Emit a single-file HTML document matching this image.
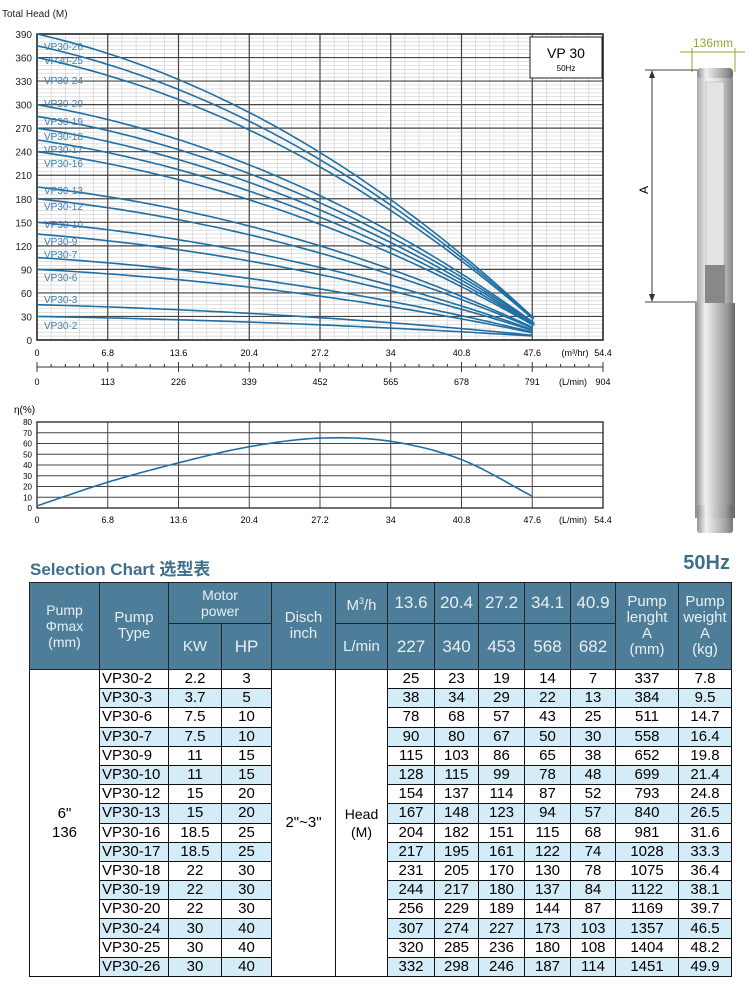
<!DOCTYPE html>
<html><head><meta charset="utf-8">
<style>
body{margin:0;width:750px;height:987px;background:#fff;font-family:"Liberation Sans","Noto Sans CJK SC",sans-serif;position:relative;overflow:hidden}
svg text{font-family:"Liberation Sans",sans-serif}
.title{position:absolute;left:30px;top:555px;font-size:17px;font-weight:bold;color:#3f6f8d}
.hz{position:absolute;right:20px;top:552px;font-size:20px;font-weight:bold;color:#3f6f8d}
table{position:absolute;left:29px;top:582px;border-collapse:collapse;table-layout:fixed;width:702px}
td{border:1px solid #111;text-align:center;padding:0;font-size:14px;height:18.2px;line-height:16px}
thead td{background:#4d7d99;color:#e8f0f4;font-size:14px;border-color:#222;line-height:16px}
thead td.big{font-size:17px}
tr.b td.c{background:#d4ecf7}
</style></head><body>
<svg id="ch" width="750" height="540" style="position:absolute;left:0;top:0"></svg>
<div class="title">Selection Chart 选型表</div>
<div class="hz">50Hz</div>
<table>
<colgroup><col style="width:70px"><col style="width:69px"><col style="width:53px"><col style="width:50px"><col style="width:64px"><col style="width:52px"><col style="width:47px"><col style="width:44px"><col style="width:46px"><col style="width:46px"><col style="width:45px"><col style="width:63px"><col style="width:53px"></colgroup>
<thead>
<tr style="height:41px"><td rowspan="2">Pump<br>Φmax<br>(mm)</td><td rowspan="2" style="font-size:15px">Pump<br>Type</td><td colspan="2">Motor<br>power</td><td rowspan="2" style="font-size:15px">Disch<br>inch</td><td style="font-size:15px">M<sup style="font-size:9px">3</sup>/h</td><td class="big">13.6</td><td class="big">20.4</td><td class="big">27.2</td><td class="big">34.1</td><td class="big">40.9</td><td rowspan="2" style="font-size:15px">Pump<br>lenght<br>A<br>(mm)</td><td rowspan="2" style="font-size:15px">Pump<br>weight<br>A<br>(kg)</td></tr>
<tr style="height:46px"><td style="font-size:15px">KW</td><td class="big">HP</td><td style="font-size:15px">L/min</td><td class="big">227</td><td class="big">340</td><td class="big">453</td><td class="big">568</td><td class="big">682</td></tr>
</thead>
<tbody id="tb"></tbody>
</table>
<script>
const rows=[["VP30-2","2.2","3",25,23,19,14,7,337,"7.8"],["VP30-3","3.7","5",38,34,29,22,13,384,"9.5"],["VP30-6","7.5","10",78,68,57,43,25,511,"14.7"],["VP30-7","7.5","10",90,80,67,50,30,558,"16.4"],["VP30-9","11","15",115,103,86,65,38,652,"19.8"],["VP30-10","11","15",128,115,99,78,48,699,"21.4"],["VP30-12","15","20",154,137,114,87,52,793,"24.8"],["VP30-13","15","20",167,148,123,94,57,840,"26.5"],["VP30-16","18.5","25",204,182,151,115,68,981,"31.6"],["VP30-17","18.5","25",217,195,161,122,74,1028,"33.3"],["VP30-18","22","30",231,205,170,130,78,1075,"36.4"],["VP30-19","22","30",244,217,180,137,84,1122,"38.1"],["VP30-20","22","30",256,229,189,144,87,1169,"39.7"],["VP30-24","30","40",307,274,227,173,103,1357,"46.5"],["VP30-25","30","40",320,285,236,180,108,1404,"48.2"],["VP30-26","30","40",332,298,246,187,114,1451,"49.9"]];
let h="";
rows.forEach((r,i)=>{h+='<tr class="'+(i%2?'b':'')+'">';
if(i==0)h+='<td rowspan="16" style="font-size:15px;line-height:19px">6"<br>136</td>';
h+='<td class="c" style="text-align:left;padding-left:2px;font-size:15px">'+r[0]+'</td><td class="c" style="font-size:15px">'+r[1]+'</td><td class="c" style="font-size:15px">'+r[2]+'</td>';
if(i==0)h+='<td rowspan="16" style="font-size:15px">2"~3"</td><td rowspan="16" style="font-size:14px;line-height:18px">Head<br>(M)</td>';
for(let k=3;k<10;k++)h+='<td class="c" style="font-size:15px">'+r[k]+'</td>';
h+='</tr>';});
document.getElementById('tb').innerHTML=h;

const X=q=>37+q*566/54.4, Y=v=>340-v*306/390, Ye=v=>508-v*86/80;
let s="";
for(let i=0;i<=40;i++){let x=37+i*566/40;s+=`<line x1="${x}" y1="34" x2="${x}" y2="340" stroke="#ccc" stroke-width="0.6"/>`;}
for(let v=0;v<=390;v+=5){s+=`<line x1="37" y1="${Y(v)}" x2="603" y2="${Y(v)}" stroke="#ccc" stroke-width="0.6"/>`;}
for(let i=0;i<=8;i++){let x=X(i*6.8);s+=`<line x1="${x}" y1="34" x2="${x}" y2="340" stroke="#444" stroke-width="1.2"/>`;}
for(let v=0;v<=390;v+=30){s+=`<line x1="37" y1="${Y(v)}" x2="603" y2="${Y(v)}" stroke="#444" stroke-width="1.2"/><text x="32" y="${Y(v)+4}" font-size="10" text-anchor="end" fill="#222">${v}</text>`;}
s+=`<rect x="37" y="34" width="566" height="306" fill="none" stroke="#222" stroke-width="1.5"/>`;
s+=`<text x="2" y="17" font-size="10" fill="#222">Total Head (M)</text>`;
s+=`<rect x="530" y="37" width="72" height="41" fill="#fff" stroke="#222"/><text x="566" y="58" font-size="14" text-anchor="middle">VP 30</text><text x="566" y="71" font-size="8" text-anchor="middle">50Hz</text>`;
const f=q=>15-0.1162*q-0.003506*q*q-0.5*Math.pow(q/47.6,3);
const ns=[2,3,6,7,9,10,12,13,16,17,18,19,20,24,25,26];
const ly={26:50,25:64,24:84,20:107,19:125,18:140,17:153,16:167,13:194,12:210,10:228,9:245,7:258,6:281,3:303,2:329};
ns.forEach(n=>{let p="";for(let q=0;q<=47.61;q+=0.7){let qq=Math.min(q,47.6);p+=(p?"L":"M")+X(qq).toFixed(1)+","+Y(n*f(qq)+3*(qq/47.6)**2).toFixed(1);}
p+="L"+X(47.6)+","+Y(n*f(47.6)+3).toFixed(1);
s+=`<path d="${p}" fill="none" stroke="#1f6fa3" stroke-width="1.6"/>`;
s+=`<text x="44" y="${ly[n]}" font-size="10" fill="#3d7fb0">VP30-${n}</text>`;});
const xl=["0","6.8","13.6","20.4","27.2","34","40.8","47.6","54.4"],ll=["0","113","226","339","452","565","678","791","904"];
xl.forEach((t,i)=>{if(i<8)s+=`<text x="${X(i*6.8)}" y="356" font-size="9" text-anchor="middle">${t}</text>`;});
s+=`<text x="575" y="356" font-size="9" text-anchor="middle">(m³/hr)</text><text x="603" y="356" font-size="9" text-anchor="middle">54.4</text>`;
s+=`<line x1="37" y1="367" x2="603" y2="367" stroke="#333"/>`;
for(let i=0;i<=40;i++){let x=37+i*566/40;s+=`<line x1="${x}" y1="${i%5?364:362}" x2="${x}" y2="${i%5?367:372}" stroke="#333"/>`;}
ll.forEach((t,i)=>{if(i<8)s+=`<text x="${X(i*6.8)}" y="385" font-size="9" text-anchor="middle">${t}</text>`;});
s+=`<text x="573" y="385" font-size="9" text-anchor="middle">(L/min)</text><text x="603" y="385" font-size="9" text-anchor="middle">904</text>`;
s+=`<text x="14" y="413" font-size="10">η(%)</text>`;
for(let v=0;v<=80;v+=10){s+=`<line x1="37" y1="${Ye(v)}" x2="603" y2="${Ye(v)}" stroke="#444" stroke-width="1"/><text x="32" y="${Ye(v)+3}" font-size="8" text-anchor="end">${v}</text>`;}
for(let i=0;i<=8;i++){let x=X(i*6.8);s+=`<line x1="${x}" y1="${Ye(80)}" x2="${x}" y2="508" stroke="#444" stroke-width="1"/>`;}
s+=`<rect x="37" y="${Ye(80)}" width="566" height="86" fill="none" stroke="#222" stroke-width="1.3"/>`;
const eq=[0,6.8,13.6,20.4,27.2,34,40.8,47.6],ev=[2,24,42,57,65,62,45,11];
let p="";for(let q=0;q<=47.6;q+=0.4){let i=Math.min(6,Math.floor(q/6.8)),t=(q-eq[i])/6.8;
let m0=i>0?(ev[i+1]-ev[i-1])/2:ev[1]-ev[0],m1=i<6?(ev[i+2]-ev[i])/2:ev[7]-ev[6];let t2=t*t,t3=t2*t;
let v=(2*t3-3*t2+1)*ev[i]+(t3-2*t2+t)*m0+(-2*t3+3*t2)*ev[i+1]+(t3-t2)*m1;p+=(p?"L":"M")+X(q).toFixed(1)+","+Ye(v).toFixed(1);}
s+=`<path d="${p}" fill="none" stroke="#1f6fa3" stroke-width="1.6"/>`;
xl.forEach((t,i)=>{if(i<8)s+=`<text x="${X(i*6.8)}" y="523" font-size="9" text-anchor="middle">${t}</text>`;});
s+=`<text x="573" y="523" font-size="9" text-anchor="middle">(L/min)</text><text x="603" y="523" font-size="9" text-anchor="middle">54.4</text>`;
s+=`<defs><linearGradient id="g" x1="0" x2="1"><stop offset="0" stop-color="#888"/><stop offset="0.25" stop-color="#f0f0f0"/><stop offset="0.5" stop-color="#c8c8c8"/><stop offset="0.8" stop-color="#999"/><stop offset="1" stop-color="#666"/></linearGradient>
<linearGradient id="g2" x1="0" x2="1"><stop offset="0" stop-color="#aaa"/><stop offset="0.3" stop-color="#f5f5f5"/><stop offset="0.6" stop-color="#ddd"/><stop offset="1" stop-color="#888"/></linearGradient></defs>`;
s+=`<text x="713" y="47" font-size="12" fill="#8aa83a" text-anchor="middle">136mm</text><line x1="680" y1="52" x2="745" y2="52" stroke="#8aa83a"/><line x1="692" y1="48" x2="692" y2="72" stroke="#8aa83a"/><line x1="735" y1="48" x2="735" y2="72" stroke="#8aa83a"/>`;
s+=`<line x1="645" y1="70" x2="700" y2="70" stroke="#444"/><line x1="645" y1="302" x2="700" y2="302" stroke="#444"/><line x1="652" y1="72" x2="652" y2="300" stroke="#333"/><path d="M649,78 L652,70 L655,78Z M649,294 L652,302 L655,294Z" fill="#333"/><text x="648" y="190" font-size="12" transform="rotate(-90 648 190)" text-anchor="middle">A</text>`;
s+=`<rect x="697" y="68" width="36" height="12" rx="4" fill="url(#g)"/><rect x="697" y="78" width="36" height="225" fill="url(#g2)"/><rect x="706" y="82" width="18" height="185" fill="#e4e4e4" stroke="#aaa" stroke-width="0.5"/><rect x="705" y="265" width="20" height="38" fill="#888"/>`;
s+=`<rect x="695" y="303" width="40" height="215" fill="url(#g)"/><rect x="697" y="505" width="36" height="28" rx="3" fill="url(#g)" opacity="0.9"/>`;
document.getElementById('ch').innerHTML=s;
</script>
</body></html>
